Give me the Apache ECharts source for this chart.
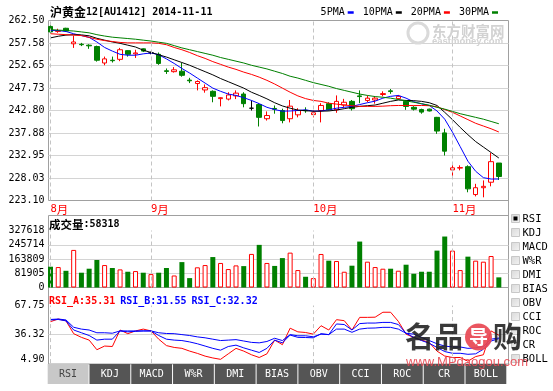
<!DOCTYPE html>
<html><head><meta charset="utf-8">
<script src="https://cdn.jsdelivr.net/npm/echarts@6/dist/echarts.min.js"></script>
<style>html,body{margin:0;padding:0;background:#fff}#c{width:553px;height:391px}</style>
</head><body><div id="c"></div>
<script>
// ---------------- DATA ----------------
const dates = [
 '2014-08-13','2014-08-14','2014-08-15','2014-08-18','2014-08-19','2014-08-20','2014-08-21','2014-08-22','2014-08-25','2014-08-26','2014-08-27','2014-08-28','2014-08-29',
 '2014-09-01','2014-09-02','2014-09-03','2014-09-04','2014-09-05','2014-09-09','2014-09-10','2014-09-11','2014-09-12','2014-09-15','2014-09-16','2014-09-17','2014-09-18','2014-09-19','2014-09-22','2014-09-23','2014-09-24','2014-09-25','2014-09-26','2014-09-29','2014-09-30',
 '2014-10-08','2014-10-09','2014-10-10','2014-10-13','2014-10-14','2014-10-15','2014-10-16','2014-10-17','2014-10-20','2014-10-21','2014-10-22','2014-10-23','2014-10-24','2014-10-27','2014-10-28','2014-10-29','2014-10-30','2014-10-31',
 '2014-11-03','2014-11-04','2014-11-05','2014-11-06','2014-11-07','2014-11-10','2014-11-11'];
const opens  = [261.2,260.1,260.8,257.4,257.3,257.1,256.8,253.2,253.8,254.0,255.9,255.2,256.3,255.4,255.1,251.5,251.3,251.4,249.45,248.7,247.3,247.0,245.4,245.3,246.0,246.4,243.3,244.1,241.0,243.25,242.8,241.0,241.85,242.85,241.9,242.8,244.3,242.95,244.0,244.8,246.0,245.0,245.1,246.3,247.1,245.4,244.8,243.5,243.0,243.1,241.3,237.9,229.8,230.2,230.5,224.4,225.9,227.1,231.3];
const closes = [260.0,260.3,260.2,257.8,257.2,256.95,253.8,254.1,253.7,256.1,255.1,255.4,255.8,255.4,253.1,251.35,251.7,250.5,249.3,249.15,247.8,245.9,245.6,246.2,246.6,244.3,243.3,241.3,241.7,243.1,240.6,243.75,242.8,242.75,242.3,243.9,242.95,244.8,244.6,243.2,245.85,245.5,245.5,246.5,246.95,245.9,243.7,243.1,242.45,242.7,238.3,233.9,230.25,230.3,225.65,225.9,226.2,231.6,228.35];
const lows   = [259.7,259.8,260.0,256.5,256.9,256.3,253.5,252.7,253.3,253.6,254.6,254.3,255.6,255.1,252.8,250.8,251.1,250.2,248.8,247.2,246.7,244.6,243.7,245.0,245.3,243.5,242.8,239.3,240.6,242.1,240.0,240.2,241.3,242.3,241.3,240.2,242.8,242.3,243.5,242.8,244.4,244.6,244.3,245.9,246.45,245.1,242.95,242.8,242.1,242.6,237.7,232.95,228.4,229.7,224.9,224.0,223.8,226.2,227.6];
const highs  = [261.6,260.7,260.9,259.2,257.6,257.3,257.0,254.6,254.6,256.5,256.0,256.1,256.4,255.7,255.5,252.0,252.3,253.2,249.95,249.4,248.5,247.2,245.7,246.8,247.2,246.8,245.0,244.4,242.6,243.9,243.2,245.1,243.3,243.5,242.8,244.4,244.6,246.1,245.35,245.1,247.2,246.1,245.9,247.0,247.5,246.2,245.0,243.75,243.2,243.2,241.4,238.8,231.5,230.8,230.8,226.75,227.5,233.5,231.3];
const ma5  = [260.3,260.3,260.1,259.6,259.2,258.8,257.8,256.6,255.8,255.1,254.9,254.9,255.2,255.4,255.0,254.1,253.1,252.0,251.0,249.9,248.8,247.7,247.0,246.4,246.1,245.6,245.0,244.3,243.5,243.0,242.65,242.7,242.8,242.95,242.65,242.7,242.95,243.3,243.5,243.7,244.1,244.5,244.85,245.5,245.9,246.1,245.5,244.7,244.26,243.9,242.7,240.9,238.06,234.9,231.7,229.5,228.1,227.8,227.8];
const ma10 = [258.7,259.05,259.3,259.4,259.35,259.15,258.6,258.2,257.8,257.5,257.1,256.7,256.0,255.5,255.0,254.5,253.9,253.3,252.7,252.0,251.3,250.6,249.8,249.1,248.4,247.7,246.8,246.1,245.35,244.5,243.8,243.3,242.9,242.75,242.65,242.65,242.7,242.9,243.2,243.5,243.7,243.85,244.0,244.4,244.8,245.1,245.0,244.95,244.8,244.5,243.9,242.4,240.8,239.1,237.5,236.0,234.8,233.6,232.4];
const ma20 = [259.6,259.5,259.4,259.3,259.2,258.8,258.4,258.1,257.9,257.7,257.6,257.6,257.6,257.6,257.5,257.2,256.6,256.1,255.5,254.8,254.2,253.5,252.9,252.3,251.8,251.2,250.7,250.1,249.4,248.6,247.7,246.8,246.0,245.4,245.0,244.8,244.4,244.2,244.0,243.85,243.7,243.7,243.7,243.75,243.85,243.9,243.9,243.9,243.9,243.85,243.6,243.0,242.4,241.6,240.8,240.0,239.4,238.8,238.1];
const ma30 = [260.5,260.4,260.3,260.2,260.0,259.8,259.4,259.1,258.85,258.7,258.55,258.4,258.2,258.0,257.75,257.5,257.0,256.5,256.1,255.7,255.3,254.9,254.4,254.0,253.6,253.2,252.7,252.3,251.9,251.4,250.9,250.3,249.9,249.4,248.9,248.5,248.1,247.6,247.2,246.8,246.4,246.1,245.85,245.7,245.5,245.2,244.9,244.6,244.3,243.95,243.5,243.1,242.6,242.1,241.7,241.3,240.9,240.4,239.9];
const volumes = [119500,117500,96000,216000,85000,108000,158000,129000,112000,104000,90600,94400,85000,77000,85000,112000,69000,146000,54000,116000,129000,175000,141000,106000,127000,123000,193000,245000,141000,124000,169000,200400,100200,61700,54000,192700,154200,152200,90600,125300,264000,148400,117500,108000,108000,96400,131000,79000,90600,90600,212000,293000,212000,100200,177300,154200,148400,181000,58318];
const rsiA = [50.1,53,51,37,33,30,19.5,23.5,23,41,37,40,42,40,31,24,22,21,18,15.5,12.5,10.5,9,15,21,18,14,11,15,30,25,43,39,38.3,36.5,45.7,41,52.3,51.2,41,54.8,54.8,55,60.4,60.4,50.4,36.5,32.8,30,27.3,18,12.6,11,11,7,12,14,40,35.31];
const rsiB = [52,52.5,51,41,38,35,30,31,31,40,39,39.5,40,40,35,31,30,29.5,28,26,23.5,21,19,23,24.5,21.5,19,16.5,21,30,27,35.5,33,32.8,32.5,37,36,47.6,47,41,48,48.6,48.6,49.3,49.3,47,37.5,33,29.5,26.5,22,17.5,15.6,15.6,14.5,15,20,29,31.55];
const rsiC = [52.5,53,52,44,42,41,38,38,37.5,40,40,40,40,40,38,37.2,37,36,35,33.5,32.5,31,29.5,30,30.5,29,27.5,27,28.5,32,29.5,36,34.7,34.7,33.6,36.5,36,42,42,38.5,42,43,43.2,43.9,43.9,42,37.5,36.5,33,29.5,26,23.5,22.5,22.5,21,21.5,23,31,32.32];
const priceTicks = ['223.10','228.03','232.95','237.88','242.80','247.73','252.65','257.58','262.50'];
const volTicks = ['0','81905','163809','245714','327618'];
const rsiTicks = ['4.90','36.32','67.75'];
const maNames = ['5PMA','10PMA','20PMA','30PMA'];
const indicators = ['RSI','KDJ','MACD','W%R','DMI','BIAS','OBV','CCI','ROC','CR','BOLL'];
const titleCJK = '沪黄金', titleCode = '12[AU1412] 2014-11-11';

// ---------------- LAYOUT / STYLE ----------------
const MONO = "'DejaVu Sans Mono', monospace";
const CJK = "'Noto Sans CJK SC', sans-serif";
const UP = '#ff0000', DN = '#008000';
const FRAME = '#a0a0a0', GRIDC = '#d4d4d4', DASH = '#c4c4c4';
const fL = 48.5, fW = 460;               // frame
const dL = 46.63, dW = 456.07;           // data band area
const mainTop = 20.5, mainH = 180;
const volTop = 230.5, volH = 57, volFrameTop = 215.5;
const rsiTop = 305.5, rsiH = 57.6, rsiFrameTop = 287.5, rsiFrameH = 76.5;

const monthStarts = dates.filter((d, i) => i === 0 || d.slice(5, 7) !== dates[i - 1].slice(5, 7));
const nearest = ticks => v => { let b = ticks[0], dd = Infinity; ticks.forEach(t => { const e = Math.abs(parseFloat(t) - v); if (e < dd) { dd = e; b = t; } }); return b; };
const rng = t => ({ min: parseFloat(t[0]), max: parseFloat(t[t.length - 1]), interval: (parseFloat(t[t.length - 1]) - parseFloat(t[0])) / (t.length - 1) });

function labelAxis(gi, ticks, fmt) {
  const r = rng(ticks);
  return { gridIndex: gi, type: 'value', min: r.min, max: r.max, interval: r.interval,
    axisLine: { show: false }, axisTick: { show: false },
    axisLabel: { fontSize: 10, fontFamily: MONO, color: '#000', margin: 4, formatter: fmt || nearest(ticks),
      rich: { lo: { fontSize: 10, fontFamily: MONO, color: '#000', padding: [0, 0, 7, 0] } } },
    splitLine: { show: true, showMinLine: false, showMaxLine: false, lineStyle: { color: GRIDC, width: 1 } } };
}
function hiddenVal(gi, ticks) { const r = ticks ? rng(ticks) : { min: 0, max: 1 }; return { gridIndex: gi, type: 'value', min: r.min, max: r.max, show: false, splitLine: { show: false } }; }
function hiddenX(gi) { return { gridIndex: gi, type: 'value', min: 0, max: 1, show: false, splitLine: { show: false } }; }
function catX(gi, showLabels) {
  return { gridIndex: gi, type: 'category', data: dates, boundaryGap: true,
    axisLine: { show: false }, axisTick: { show: false }, splitLine: { show: false },
    axisLabel: showLabels ? {
      show: true, interval: (i, v) => monthStarts.indexOf(v) >= 0, align: 'left', margin: 3,
      formatter: v => '{n|' + parseInt(v.slice(5, 7), 10) + '}{m|月}',
      rich: { n: { fontFamily: MONO, fontSize: 10.5, color: UP }, m: { fontFamily: CJK, fontSize: 11.5, color: UP } }
    } : { show: false } };
}
const mLine = { symbol: ['none', 'none'], silent: true, animation: false, label: { show: false },
  lineStyle: { color: DASH, type: [4, 3], width: 1 }, data: monthStarts.map(d => ({ xAxis: d })) };

const frameGrid = (top, h, show) => ({ left: fL, top: top, width: fW, height: h, show: show, borderColor: FRAME, borderWidth: 1, backgroundColor: 'transparent' });
const dataGrid = (top, h) => ({ left: dL, top: top, width: dW, height: h, show: false });

const last = a => a[a.length - 1];

// graphic chrome: tabs, indicator list, watermarks
const graphics = [];
graphics.push({ type: 'line', shape: { x1: 508.5, y1: 200, x2: 508.5, y2: 216 }, style: { stroke: FRAME, lineWidth: 1 } });
const tabPitch = 41.78, tabW = 40.8, tabX0 = 47.7;
indicators.forEach((name, i) => {
  const x = tabX0 + i * tabPitch;
  graphics.push({ type: 'rect', shape: { x: x, y: 364, width: tabW, height: 20 }, style: { fill: i === 0 ? '#c8c8c8' : '#555555' }, z: 10 });
  graphics.push({ type: 'text', x: x + tabW / 2, y: 374.5, style: { text: name, font: '10px ' + MONO, fill: i === 0 ? '#444' : '#fff', align: 'center', verticalAlign: 'middle', textAlign: 'center', textVerticalAlign: 'middle' }, z: 11 });
});
indicators.forEach((name, i) => {
  const cy = 219 + i * 14;
  graphics.push({ type: 'rect', shape: { x: 511.5, y: cy - 4.5, width: 8, height: 8 }, style: { fill: new echarts.graphic.LinearGradient(0, 0, 1, 1, [{ offset: 0, color: '#d8d8d8' }, { offset: 1, color: '#f4f4f4' }]), stroke: '#c8c8c8', lineWidth: 1 }, z: 10 });
  if (i === 0) graphics.push({ type: 'rect', shape: { x: 513.5, y: cy - 2.5, width: 4, height: 4 }, style: { fill: '#000' }, z: 11 });
  graphics.push({ type: 'text', x: 522.5, y: cy, style: { text: name, font: '10.5px ' + MONO, fill: '#000', align: 'left', verticalAlign: 'middle', textAlign: 'left', textVerticalAlign: 'middle' }, z: 11 });
});
// watermarks
graphics.push({ type: 'text', x: 432, y: 31, style: { text: '东方财富网', font: 'bold 14.5px ' + CJK, fill: '#d2d2d2', align: 'left', verticalAlign: 'middle', textAlign: 'left', textVerticalAlign: 'middle' }, z: 20 });
graphics.push({ type: 'text', x: 432, y: 41.5, style: { text: 'eastmoney.com', font: 'bold 9.5px ' + "'Liberation Sans', sans-serif", fill: '#d2d2d2', align: 'left', verticalAlign: 'middle', textAlign: 'left', textVerticalAlign: 'middle' }, z: 20 });
graphics.push({ type: 'circle', shape: { cx: 418, cy: 33, r: 10 }, style: { fill: 'none', stroke: '#dadada', lineWidth: 3 }, z: 20 });
graphics.push({ type: 'text', x: 405, y: 337, style: { text: '名品', font: 'bold 29px ' + CJK, fill: 'rgba(30,30,30,0.88)', align: 'left', verticalAlign: 'middle', textAlign: 'left', textVerticalAlign: 'middle' }, z: 20 });
graphics.push({ type: 'circle', shape: { cx: 478.5, cy: 337, r: 13.5 }, style: { fill: 'rgba(232,72,82,0.92)' }, z: 20 });
graphics.push({ type: 'text', x: 478.5, y: 337, style: { text: '导', font: 'bold 19px ' + CJK, fill: '#fff', align: 'center', verticalAlign: 'middle', textAlign: 'center', textVerticalAlign: 'middle' }, z: 21 });
graphics.push({ type: 'text', x: 493, y: 337, style: { text: '购', font: 'bold 29px ' + CJK, fill: 'rgba(30,30,30,0.88)', align: 'left', verticalAlign: 'middle', textAlign: 'left', textVerticalAlign: 'middle' }, z: 20 });
graphics.push({ type: 'text', x: 406, y: 362, style: { text: 'www.MPdaogou.com', font: '13px ' + "'Liberation Sans', sans-serif", fill: 'rgba(232,72,82,0.9)', align: 'left', verticalAlign: 'middle', textAlign: 'left', textVerticalAlign: 'middle' }, z: 20 });

const maColors = ['#0000ff', '#000000', '#ff0000', '#008000'];
const maData = [ma5, ma10, ma20, ma30];

const option = {
  animation: false,
  backgroundColor: '#fff',
  title: [
    { left: 50, top: 6, padding: 0, text: '{c|' + titleCJK + '}{a|' + titleCode + '}',
      textStyle: { rich: { c: { fontFamily: CJK, fontSize: 12, color: '#000' }, a: { fontFamily: MONO, fontSize: 10, color: '#000' } } } },
    { left: 49, top: 219, padding: 0, text: '{c|成交量}{a|:' + last(volumes) + '}',
      textStyle: { rich: { c: { fontFamily: CJK, fontSize: 11.5, color: '#000' }, a: { fontFamily: MONO, fontSize: 10, color: '#000' } } } },
    { left: 49, top: 292, padding: 0, text: '{r|RSI_A:' + last(rsiA).toFixed(2) + '} {b|RSI_B:' + last(rsiB).toFixed(2) + '} {b|RSI_C:' + last(rsiC).toFixed(2) + '}',
      textStyle: { rich: { r: { fontFamily: MONO, fontSize: 10, color: '#ff0000' }, b: { fontFamily: MONO, fontSize: 10, color: '#0000ff' } } } }
  ],
  legend: { data: maNames, right: 55, top: 7.5, padding: 0, align: 'right', icon: 'rect', itemWidth: 6, itemHeight: 2.5, itemGap: 9,
    textStyle: { fontFamily: MONO, fontSize: 10, color: '#000', padding: [0, -2, 0, 0] } },
  grid: [
    frameGrid(mainTop, mainH, true), dataGrid(mainTop, mainH),
    frameGrid(volTop, volH, false), frameGrid(volFrameTop, 287.5 - volFrameTop, true), dataGrid(volTop, volH),
    frameGrid(rsiTop, rsiH, false), frameGrid(rsiFrameTop, rsiFrameH, true), dataGrid(rsiTop, rsiH)
  ],
  xAxis: [hiddenX(0), catX(1, true), hiddenX(2), hiddenX(3), catX(4, false), hiddenX(5), hiddenX(6), catX(7, false)],
  yAxis: [
    labelAxis(0, priceTicks), hiddenVal(1, priceTicks),
    labelAxis(2, volTicks), hiddenVal(3), hiddenVal(4, volTicks),
    labelAxis(5, rsiTicks, v => { const s = nearest(rsiTicks)(v); return s === rsiTicks[0] ? '{lo|' + s + '}' : s; }), hiddenVal(6), hiddenVal(7, rsiTicks)
  ],
  graphic: graphics,
  series: [
    { type: 'candlestick', xAxisIndex: 1, yAxisIndex: 1, barWidth: 5,
      data: opens.map((o, i) => [o, closes[i], lows[i], highs[i]]),
      itemStyle: { color: '#ffffff', color0: DN, borderColor: UP, borderColor0: DN, borderColorDoji: '#000000', borderWidth: 1 },
      markLine: mLine, z: 2 },
    ...maNames.map((n, k) => ({ type: 'line', name: n, xAxisIndex: 1, yAxisIndex: 1, data: maData[k], symbol: 'none', showSymbol: false,
      color: maColors[k], itemStyle: { color: maColors[k] }, lineStyle: { color: maColors[k], width: 1 }, z: 3 })),
    { type: 'bar', xAxisIndex: 4, yAxisIndex: 4, barWidth: 5,
      data: volumes.map((v, i) => ({ value: v, itemStyle: closes[i] >= opens[i] ? { color: '#ffffff', borderColor: UP, borderWidth: 1 } : { color: DN, borderWidth: 0 } })),
      markLine: mLine, z: 2 },
    { type: 'line', xAxisIndex: 7, yAxisIndex: 7, data: rsiA, symbol: 'none', lineStyle: { color: '#ff0000', width: 1 }, markLine: mLine, z: 3 },
    { type: 'line', xAxisIndex: 7, yAxisIndex: 7, data: rsiB, symbol: 'none', lineStyle: { color: '#0000ff', width: 1 }, z: 3 },
    { type: 'line', xAxisIndex: 7, yAxisIndex: 7, data: rsiC, symbol: 'none', lineStyle: { color: '#0000ff', width: 1 }, z: 3 }
  ]
};
const chart = echarts.init(document.getElementById('c'), null, { renderer: 'canvas' });
chart.setOption(option);
</script></body></html>
